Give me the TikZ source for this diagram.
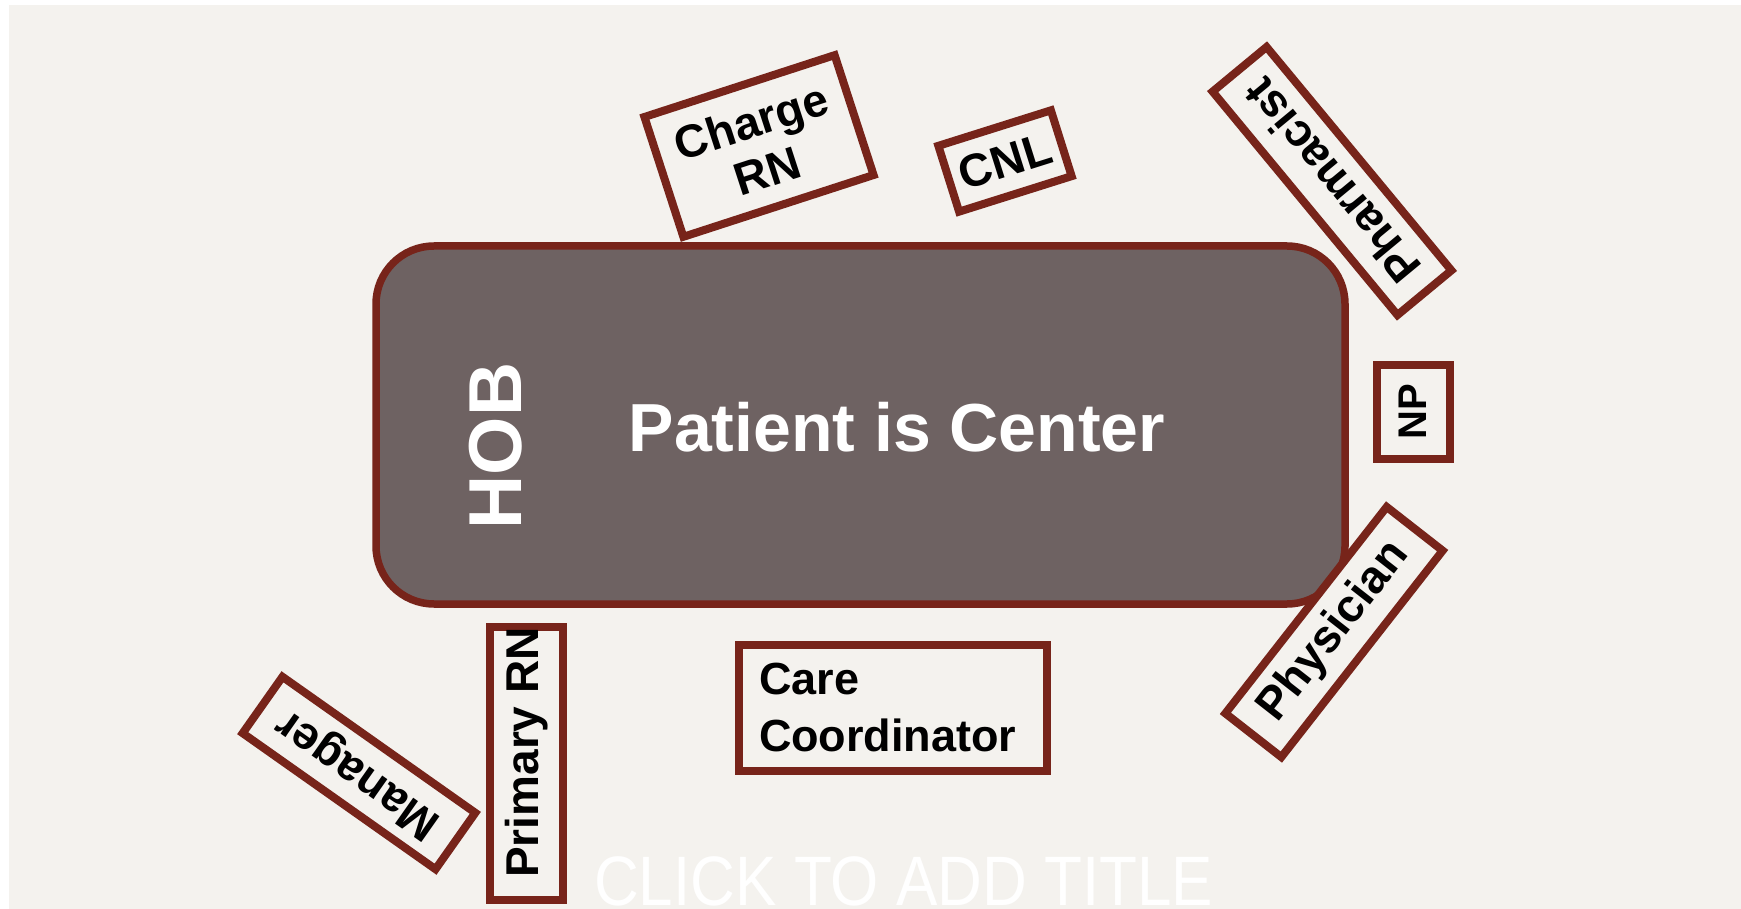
\documentclass[tikz,border=0pt]{standalone}
\usepackage{fontspec}
\setmainfont{Liberation Sans}
\definecolor{slidebg}{HTML}{F4F2EE}
\definecolor{frame}{HTML}{77241A}
\definecolor{bedfill}{HTML}{6E6262}
\begin{document}
\begin{tikzpicture}[x=1pt,y=-1pt,
  rolebox/.style={draw=frame, line width=8pt, fill=slidebg, inner sep=0pt,
    align=center, text=black, font=\fontsize{46}{52}\selectfont\bfseries},
  bedtext/.style={text=white, inner sep=0pt, font=\bfseries}]
\useasboundingbox (0,0) rectangle (1741,909);
% page and slide background
\fill[white] (0,0) rectangle (1741,909);
\fill[slidebg] (9,5) rectangle (1741,909);

% the bed in the middle
\node[draw=frame, fill=bedfill, line width=7.5pt, rounded corners=58pt,
  minimum width=969pt, minimum height=358pt, inner sep=0pt] (bed) at (860.5,425) {};
\node[bedtext, font=\fontsize{68}{70}\selectfont\bfseries] (center) at (897,427) {Patient is Center};
\node[bedtext, rotate=90, font=\fontsize{75}{77}\selectfont\bfseries] (hob) at (496,446) {HOB};

% team members around the bed
\node[rolebox, rotate=18, minimum width=200pt, minimum height=126pt] (charge) at (759,146) {Charge\\RN};
\node[rolebox, rotate=17.5, minimum width=118pt, minimum height=69pt] (cnl) at (1005,161) {CNL};
\node[rolebox, rotate=129.6, minimum width=290pt, minimum height=70pt] (pharm) at (1332,181) {Pharmacist};
\node[rolebox, rotate=90, minimum width=93pt, minimum height=73pt,
  font=\fontsize{40}{44}\selectfont\bfseries] (np) at (1413,412) {NP};
\node[rolebox, rotate=52, minimum width=262pt, minimum height=71pt] (phys) at (1334,632) {Physician};
\node[rolebox, rotate=144.8, minimum width=236pt, minimum height=69pt] (mgr) at (359,773) {Manager};
\node[rolebox, rotate=90, minimum width=269pt, minimum height=73pt] (prn) at (526.5,763.5) {\hspace*{22pt}Primary RN};
\node[rolebox, align=left, text width=268pt, inner xsep=20pt, minimum height=126pt,
  font=\fontsize{45}{57}\selectfont\bfseries] (care) at (893,708) {Care\\Coordinator};

% faint title placeholder
\node[anchor=base west, inner sep=0pt, text=white, font=\fontsize{70}{72}\selectfont] (title)
  at (594,905) {\scalebox{0.886}[1]{CLICK TO ADD TITLE}};
\end{tikzpicture}
\end{document}
